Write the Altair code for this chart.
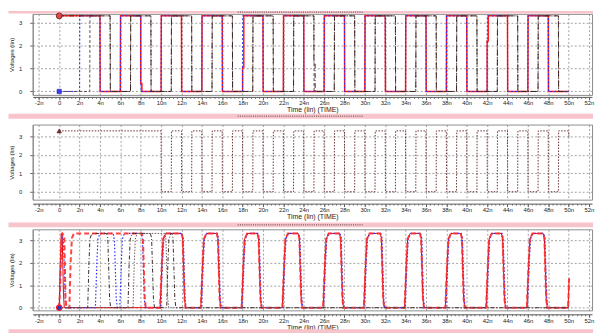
import altair as alt
import pandas as pd

# ---------------- values ----------------
HI = 3.3
X_DOMAIN = [-2.6, 52.3]
X_TICKS = [-2, 0, 2, 4, 6, 8, 10, 12, 14, 16, 18, 20, 22, 24, 26, 28, 30, 32,
           34, 36, 38, 40, 42, 44, 46, 48, 50, 52]
X_MINOR = [round(-2.4 + 0.4 * k, 1) for k in range(137)]
Y_TICKS = [0, 1, 2, 3]
X_TITLE = "Time (lin) (TIME)"
Y_TITLE = "Voltages (lin)"

# panel 1 : square waves (start level, toggle times in ns, end time)
P1_RED_START = HI
P1_RED_EDGES = [4, 6, 8, 10, 12, 14, 16, 18, 20, 22, 24, 26, 28, 30, 32, 34,
                36, 38, 40, 42, 44, 46, 48]
P1_RED_KINKS = {8: 0.35, 18: 1.05, 42: 2.2}
P1_BLUE_START = 0.0
P1_BLUE_EDGES = [2, 4, 6, 8, 10, 12, 14, 16, 18, 20, 22, 24, 26, 28, 30, 32,
                 34, 36, 38, 40, 42, 44, 46, 48]
P1_BLK_START = HI
P1_BLK_EDGES = [5, 7, 9, 11, 13, 15, 17, 19, 21, 23, 25, 27, 29, 31, 33, 35,
                37, 39, 41, 43, 45, 47, 49]
P1_BLK_KINKS = {25: 1.2}
P1_DRK_START = 0.0
P1_DRK_EDGES = [3, 5, 7, 9, 11, 13, 15, 17, 19, 21, 23, 25, 27, 29, 31, 33,
                35, 37, 39, 41, 43, 45, 47, 49]
P1_END = 50

# panel 2 : one clock
P2_START = HI
P2_EDGES = [10, 11, 12, 13, 14, 15, 16, 17, 18, 19, 20, 21, 22, 23, 24, 25,
            26, 27, 28, 29, 30, 31, 32, 33, 34, 35, 36, 37, 38, 39, 40, 41,
            42, 43, 44, 45, 46, 47, 48, 49]
P2_END = 50
P2_TAIL_T = [50.03]
P2_TAIL_V = [2.9]

# panel 3 : slow-edged pulses
P3_RISE = [10, 14, 18, 22, 26, 30, 34, 38, 42, 46]
P3_TOP_END = [12.0, 15.45, 19.45, 23.45, 27.5, 31.5, 35.4, 39.4, 43.4, 47.5]
RISE_DT = [-0.1, 0.08, 0.2, 0.45]
RISE_V = [0.0, 2.0, 3.05, 3.3]
FALL_DT = [0.0, 0.12, 0.3, 0.4]
FALL_V = [3.3, 3.1, 0.4, 0.0]

P3_REDD_HEAD_T = [0, 0.1, 0.22, 0.32, 0.5, 0.62, 0.72, 1.0, 1.12, 1.25, 1.45, 8.1, 8.22, 8.4, 8.5]
P3_REDD_HEAD_V = [0, 1.0, 3.1, 3.3, 3.2, 0.4, 0.0, 0.0, 2.0, 3.1, 3.3, 3.3, 3.1, 0.4, 0.0]
P3_REDS_HEAD_T = [0, 0.1, 0.2, 0.3, 0.42, 0.5]
P3_REDS_HEAD_V = [0, 1.8, 3.3, 3.1, 0.6, 0.0]
P3_RED_TAIL_T = [49.95, 50.05]
P3_RED_TAIL_V = [0.0, 1.3]
P3_BLUE_HEAD_T = [0, 0.12, 0.3, 0.42, 0.6, 0.7, 3.55, 3.7, 3.8, 4.0, 5.3, 5.42, 5.6, 5.7,
                  5.95, 6.1, 6.2, 6.4, 8.05, 8.17, 8.35, 8.45]
P3_BLUE_HEAD_V = [0, 1.5, 3.3, 3.0, 0.3, 0.0, 0.0, 2.0, 3.05, 3.3, 3.3, 3.0, 0.4, 0.0,
                  0.0, 2.0, 3.05, 3.3, 3.3, 3.1, 0.4, 0.0]
P3_BLUE_SHIFT = 0.06
P3_BLUE_TAIL_T = [50.0]
P3_BLUE_TAIL_V = [0.0]
P3_DK1_T = [0, 2.8, 2.92, 3.02, 3.2, 4.65, 4.77, 4.95, 5.05, 6.75, 6.87, 6.97, 7.15,
            8.95, 9.07, 9.25, 9.35, 10.55, 10.67, 10.77, 10.95, 11.05, 11.17, 11.35, 11.45, 50]
P3_DK1_V = [0, 0, 2.0, 3.05, 3.3, 3.3, 3.1, 0.4, 0, 0, 2.0, 3.05, 3.3,
            3.3, 3.1, 0.4, 0, 0, 2.0, 3.05, 3.3, 3.3, 3.1, 0.4, 0, 0]
P3_DK2_T = [0, 7.25, 7.37, 7.47, 7.65, 10.35, 10.47, 10.65, 10.75, 50]
P3_DK2_V = [0, 0, 2.0, 3.05, 3.3, 3.3, 3.1, 0.4, 0, 0]

# ---------------- helpers ----------------
def square(start, edges, end, kinks=None):
    kinks = kinks or {}
    t, v = [0.0], [start]
    lvl = start
    for e in edges:
        new = 0.0 if lvl > 0 else HI
        t.append(e); v.append(lvl)
        if e in kinks:
            t += [e, e + 0.12, e + 0.12]; v += [kinks[e], kinks[e], new]
        else:
            t.append(e + 0.02); v.append(new)
        lvl = new
    t.append(end); v.append(lvl)
    return t, v


def pulses(head_t, head_v, shift, tail_t, tail_v):
    t, v = list(head_t), list(head_v)
    for r, f in zip(P3_RISE, P3_TOP_END):
        for dt, vv in zip(RISE_DT, RISE_V):
            t.append(r + shift + dt); v.append(vv)
        for dt, vv in zip(FALL_DT, FALL_V):
            t.append(f + shift + dt); v.append(vv)
    t += tail_t; v += tail_v
    return t, v


def df(t, v):
    return pd.DataFrame({"t": t, "v": v, "i": list(range(len(t)))})


W = 566
LEFT = 24.5
PINK = "#f7c4cb"
FONT = "Liberation Sans"
ONE = pd.DataFrame({"a": [0]})


def panel(H, ydom, offset, lines, marks, pink, bottom_pink=None):
    xs = alt.Scale(domain=X_DOMAIN, nice=False, zero=False)
    ys = alt.Scale(domain=ydom, nice=False, zero=False)
    base = alt.Chart(pd.DataFrame({"t": [0.0], "v": [0.0]}))
    grid = base.mark_point(opacity=0).encode(
        x=alt.X("t:Q", scale=xs, axis=alt.Axis(
            values=X_TICKS, grid=True, gridColor="#8a8a8a", gridDash=[2, 2],
            gridWidth=0.8, labels=False, ticks=False, domain=False, title=None,
            orient="bottom")),
        y=alt.Y("v:Q", scale=ys, axis=alt.Axis(
            values=Y_TICKS, grid=True, gridColor="#8a8a8a", gridDash=[2, 2],
            gridWidth=0.8, title=Y_TITLE, titleFontSize=6, titleFontWeight="normal",
            titleColor="#222", titlePadding=4, labelFontSize=6, labelColor="#222",
            labelPadding=8, tickSize=3, tickColor="#666", domainColor="#888",
            labelFont=FONT, titleFont=FONT, orient="left")),
    )
    major = base.mark_point(opacity=0).encode(
        x=alt.X("t:Q", scale=xs, axis=alt.Axis(
            values=X_TICKS, grid=False, orient="bottom", offset=offset,
            labelExpr="datum.value == 0 ? '0' : datum.value + 'n'",
            title=X_TITLE, titleFontSize=7, titleFontWeight="normal",
            titleColor="#222", titlePadding=0, labelFontSize=6, labelColor="#222",
            labelPadding=0, tickSize=3, tickColor="#555", domainColor="#555",
            labelOverlap=False, labelFlush=False, labelFont=FONT, titleFont=FONT)),
        y=alt.Y("v:Q", scale=ys, axis=None),
    )
    minor = base.mark_point(opacity=0).encode(
        x=alt.X("t:Q", scale=xs, axis=alt.Axis(
            values=X_MINOR, grid=False, orient="bottom", offset=offset,
            labels=False, domain=False, title=None, tickSize=1.5,
            tickColor="#666")),
        y=alt.Y("v:Q", scale=ys, axis=None),
    )
    layers = [grid, major, minor]
    band = alt.Chart(ONE).mark_rect(color=PINK).encode(
        x=alt.value(-LEFT), x2=alt.value(W + 1),
        y=alt.value(pink[0]), y2=alt.value(pink[1]))
    handle = alt.Chart(ONE).mark_rule(color="#5a4040", strokeDash=[1, 1.2],
                                      strokeWidth=1).encode(
        x=alt.value(207.5), x2=alt.value(334.5),
        y=alt.value((pink[0] + pink[1]) / 2))
    layers += [band, handle]
    if bottom_pink:
        layers.append(alt.Chart(ONE).mark_rect(color=PINK).encode(
            x=alt.value(-LEFT), x2=alt.value(W + 1),
            y=alt.value(bottom_pink[0]), y2=alt.value(bottom_pink[1])))
    for data, style in lines:
        layers.append(alt.Chart(data).mark_line(strokeCap="butt", **style).encode(
            x=alt.X("t:Q", scale=xs, axis=None),
            y=alt.Y("v:Q", scale=ys, axis=None),
            order=alt.Order("i:Q")))
    for data, style in marks:
        layers.append(alt.Chart(data).mark_point(filled=True, opacity=1, **style).encode(
            x=alt.X("t:Q", scale=xs, axis=None),
            y=alt.Y("v:Q", scale=ys, axis=None)))
    return alt.layer(*layers).resolve_axis(x="independent", y="independent").properties(
        width=W, height=H)


RED = dict(color="#ff1c1c", strokeWidth=1.5)
BLUE = dict(color="#2a2aff", strokeWidth=1, strokeDash=[2, 2])
BLK = dict(color="#3b2222", strokeWidth=1, strokeDash=[5, 2, 1, 2])
DRK = dict(color="#6a4c4c", strokeWidth=1, strokeDash=[3, 2])

p1_lines = [
    (df(*square(P1_RED_START, P1_RED_EDGES, P1_END, P1_RED_KINKS)), RED),
    (df(*square(P1_BLUE_START, P1_BLUE_EDGES, P1_END)), BLUE),
    (df(*square(P1_DRK_START, P1_DRK_EDGES, P1_END)), DRK),
    (df(*square(P1_BLK_START, P1_BLK_EDGES, P1_END, P1_BLK_KINKS)), BLK),
]
p1_marks = [
    (df([0], [HI]), dict(shape="circle", size=36, fill="#e04848", stroke="#7a2a2a", strokeWidth=1)),
    (df([0], [0.0]), dict(shape="square", size=20, fill="#3b3bff", stroke="#2020a0", strokeWidth=0.5)),
]
p1 = panel(82, [-0.151, 3.386], 2, p1_lines, p1_marks, (-3, -0.5))

t2, v2 = square(P2_START, P2_EDGES, P2_END)
t2 += P2_TAIL_T; v2 += P2_TAIL_V
p2_lines = [(df(t2, v2), dict(color="#6b3030", strokeWidth=1, strokeDash=[1.5, 1.5]))]
p2_marks = [(df([0], [HI]), dict(shape="triangle-up", size=22, fill="#7a2e2e", stroke="#5a1e1e", strokeWidth=0.5))]
# frame 123..199, zero at 191, 3 V at 135
p2 = panel(76, [-0.429, 3.642], 4, p2_lines, p2_marks, (-11, -6))

p3_lines = [
    (df(*pulses(P3_REDS_HEAD_T, P3_REDS_HEAD_V, 0.0, P3_RED_TAIL_T, P3_RED_TAIL_V)),
     dict(color="#e80000", strokeWidth=1)),
    (df(*pulses(P3_BLUE_HEAD_T, P3_BLUE_HEAD_V, P3_BLUE_SHIFT, P3_BLUE_TAIL_T, P3_BLUE_TAIL_V)),
     dict(color="#2a2aff", strokeWidth=1.2, strokeDash=[1.5, 2])),
    (df(*pulses(P3_REDD_HEAD_T, P3_REDD_HEAD_V, 0.0, P3_RED_TAIL_T, P3_RED_TAIL_V)),
     dict(color="#ff3030", strokeWidth=2, strokeDash=[5, 3], opacity=0.9)),
    (df(P3_DK1_T, P3_DK1_V), dict(color="#3a2a2a", strokeWidth=1, strokeDash=[4, 2, 1, 2])),
    (df(P3_DK2_T, P3_DK2_V), dict(color="#6e5a5a", strokeWidth=1, strokeDash=[1.5, 1.5])),
]
p3_marks = [(df([0], [0.0]), dict(shape="circle", size=30, fill="#3030c0", stroke="#ff2020", strokeWidth=1.2))]
p3 = panel(82, [-0.119, 3.483], 4, p3_lines, p3_marks, (-7, -2), bottom_pink=(101, 105))

chart = alt.vconcat(p1, p2, p3, spacing=30, bounds="flush").properties(padding=0).configure_view(
    stroke="#8c8c8c", strokeWidth=1)

chart.save("out.html", embed_options={"renderer": "svg", "actions": False})
